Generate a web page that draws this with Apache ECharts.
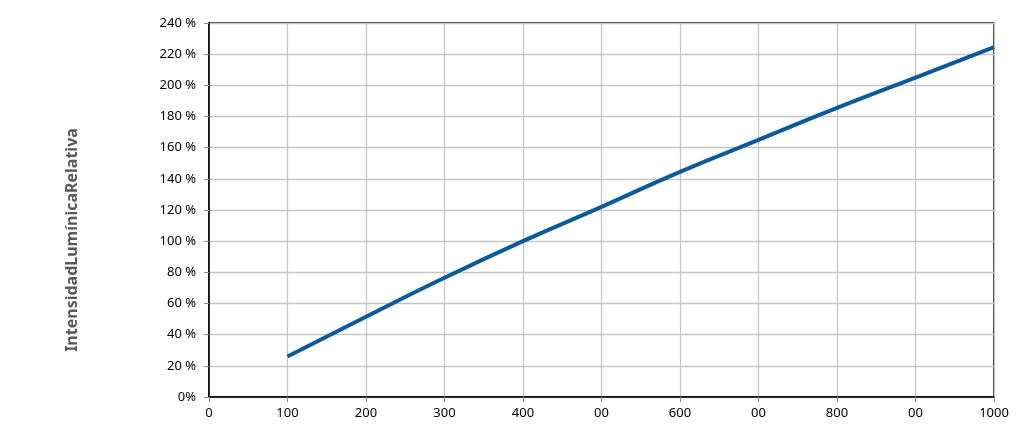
<!DOCTYPE html>
<html>
<head>
<meta charset="utf-8">
<script src="https://cdn.jsdelivr.net/npm/echarts@6/dist/echarts.min.js"></script>
<style>html,body{margin:0;padding:0;background:#fff}#c{width:1024px;height:430px}</style>
</head>
<body>
<div id="c"></div>
<script>
var xValues = [100, 200, 300, 400, 500, 600, 700, 800, 900, 1000];
var yValues = [26, 51.5, 76.5, 100, 122, 144.5, 165, 185.5, 205, 224.5];
var xTickLabels = ['0', '100', '200', '300', '400', '00', '600', '00', '800', '00', '1000'];
var yTickLabels = ['0%', '20 %', '40 %', '60 %', '80 %', '100 %', '120 %', '140 %', '160 %', '180 %', '200 %', '220 %', '240 %'];
var yAxisTitle = 'IntensidadLumínicaRelativa';

var chart = echarts.init(document.getElementById('c'));
var font = 'Noto Sans';
chart.setOption({
  animation: false,
  grid: {left: 209, right: 30, top: 23, bottom: 33, show: true, borderColor: '#000', borderWidth: 1.5, backgroundColor: 'transparent'},
  xAxis: {
    type: 'value', min: 0, max: 1000, interval: 100,
    axisLine: {show: true, lineStyle: {color: '#000', width: 1.5}},
    axisTick: {show: true, length: 5, lineStyle: {color: '#888'}},
    splitLine: {show: true, lineStyle: {color: '#c6c6c6', width: 1.3}},
    axisLabel: {color: '#000', fontFamily: font, fontSize: 13, margin: 10,
      formatter: function (v) { return xTickLabels[Math.round(v / 100)]; }}
  },
  yAxis: {
    type: 'value', min: 0, max: 240, interval: 20,
    axisLine: {show: true, lineStyle: {color: '#000', width: 1.5}},
    axisTick: {show: true, length: 5, lineStyle: {color: '#888'}},
    splitLine: {show: true, lineStyle: {color: '#c6c6c6', width: 1.3}},
    axisLabel: {color: '#000', fontFamily: font, fontSize: 13, margin: 13,
      formatter: function (v) { return yTickLabels[Math.round(v / 20)]; }}
  },
  graphic: [{
    type: 'text', x: 72, y: 240, rotation: Math.PI / 2,
    style: {text: yAxisTitle, fill: '#595959', font: 'bold 16px "Noto Sans"', textAlign: 'center', textVerticalAlign: 'middle'}
  }],
  series: [{
    type: 'line', smooth: true, symbol: 'none',
    data: xValues.map(function (x, i) { return [x, yValues[i]]; }),
    lineStyle: {color: '#0b5a9b', width: 4}
  }]
});
</script>
</body>
</html>
